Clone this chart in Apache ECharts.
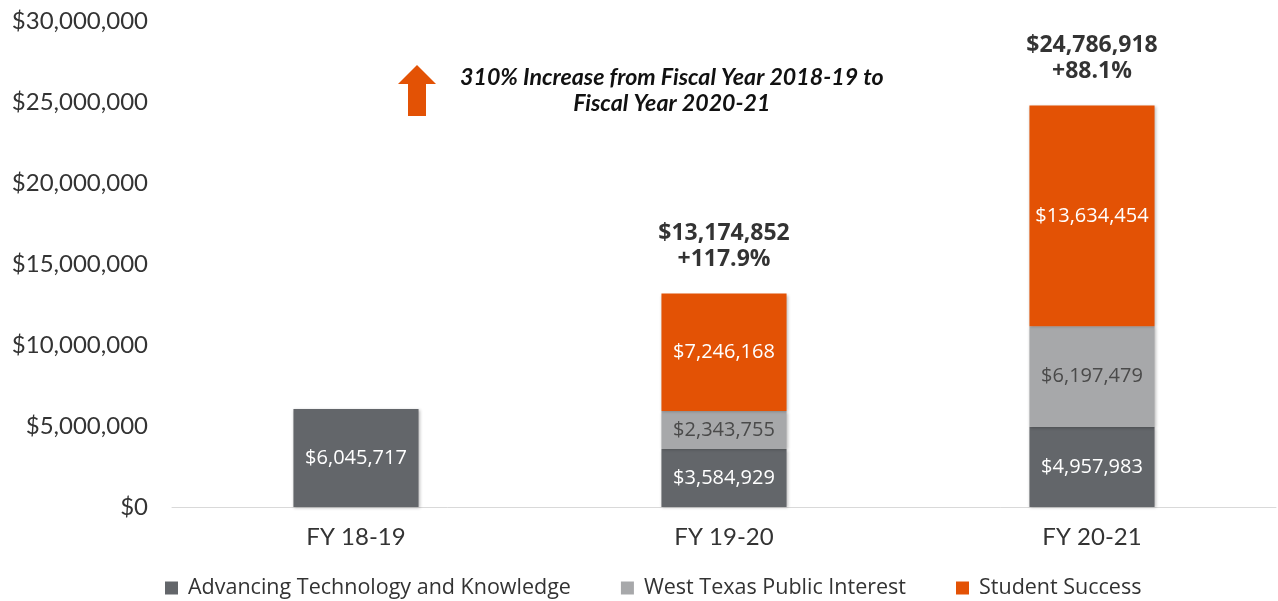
<!DOCTYPE html>
<html><head><meta charset="utf-8">
<script src="https://cdn.jsdelivr.net/npm/echarts@6/dist/echarts.min.js"></script>
<style>html,body{margin:0;padding:0;background:#fff}#c{width:1278px;height:601px}</style>
</head><body><div id="c"></div>
<script>
const categories = ['FY 18-19', 'FY 19-20', 'FY 20-21'];
const advancingTech = [6045717, 3584929, 4957983];
const westTexas = [null, 2343755, 6197479];
const studentSuccess = [null, 7246168, 13634454];
const totals = [null, 13174852, 24786918];
const totalLabels = ['', '$13,174,852', '$24,786,918'];
const pctLabels = ['', '+117.9%', '+88.1%'];
const yTicks = [0, 5000000, 10000000, 15000000, 20000000, 25000000, 30000000];

const fmt = v => '$' + Number(v).toLocaleString('en-US');
const chart = echarts.init(document.getElementById('c'));
const shadow = {shadowColor: 'rgba(0,0,0,0.25)', shadowBlur: 3, shadowOffsetX: 1, shadowOffsetY: 1};
const lblFont = {fontFamily: 'Open Sans', fontSize: 20};
chart.setOption({
  animation: false,
  grid: {left: 172, right: 2, top: 21, bottom: 94},
  legend: {
    data: ['Advancing Technology and Knowledge', 'West Texas Public Interest', 'Student Success'],
    top: 572, left: 160, itemWidth: 13, itemHeight: 13, itemGap: 50, icon: 'rect',
    textStyle: {fontFamily: 'Open Sans', fontSize: 21.5, color: '#333', padding: [0, 0, 0, 5]}
  },
  xAxis: {
    type: 'category', data: categories,
    axisLine: {lineStyle: {color: '#d9d9d9', width: 1}},
    axisTick: {show: false},
    axisLabel: {fontFamily: 'Lato', fontSize: 24, color: '#333', margin: 18}
  },
  yAxis: {
    type: 'value', min: yTicks[0], max: yTicks[yTicks.length - 1], interval: 5000000,
    splitLine: {show: false}, axisLine: {show: false}, axisTick: {show: false},
    axisLabel: {fontFamily: 'Lato', fontSize: 24, color: '#333', margin: 24, formatter: v => fmt(v)}
  },
  series: [
    {name: 'Advancing Technology and Knowledge', type: 'bar', stack: 's', barWidth: '34%', data: advancingTech,
     itemStyle: Object.assign({color: '#63666a'}, shadow),
     label: Object.assign({show: true, color: '#fff', formatter: p => fmt(p.value)}, lblFont)},
    {name: 'West Texas Public Interest', type: 'bar', stack: 's', data: westTexas,
     itemStyle: Object.assign({color: '#a7a8aa'}, shadow),
     label: Object.assign({show: true, color: '#4a4a4a', formatter: p => fmt(p.value)}, lblFont)},
    {name: 'Student Success', type: 'bar', stack: 's', data: studentSuccess,
     itemStyle: Object.assign({color: '#e35205'}, shadow),
     label: Object.assign({show: true, color: '#fff', formatter: p => fmt(p.value)}, lblFont)},
    {name: 'Total', type: 'scatter', data: totals, symbol: 'circle', symbolSize: 2, silent: true,
     itemStyle: {color: 'rgba(0,0,0,0)'},
     label: {show: true, position: 'top', distance: 20, fontFamily: 'Open Sans', fontWeight: 'bold', fontSize: 23,
             color: '#000', lineHeight: 26, align: 'center',
             formatter: p => totalLabels[p.dataIndex] + '\n' + pctLabels[p.dataIndex]}}
  ],
  graphic: [
    {type: 'polygon', shape: {points: [[417, 65], [436, 84], [426, 84], [426, 116], [408, 116], [408, 84], [398, 84]]},
     style: {fill: '#e35205'}},
    {type: 'text', left: 460, top: 65,
     style: {text: '310% Increase from Fiscal Year 2018-19 to\nFiscal Year 2020-21', textAlign: 'center',
             fontFamily: 'Lato', fontStyle: 'italic', fontWeight: 'bold', fontSize: 23.2, lineHeight: 26, fill: '#111'}}
  ]
});
</script></body></html>
